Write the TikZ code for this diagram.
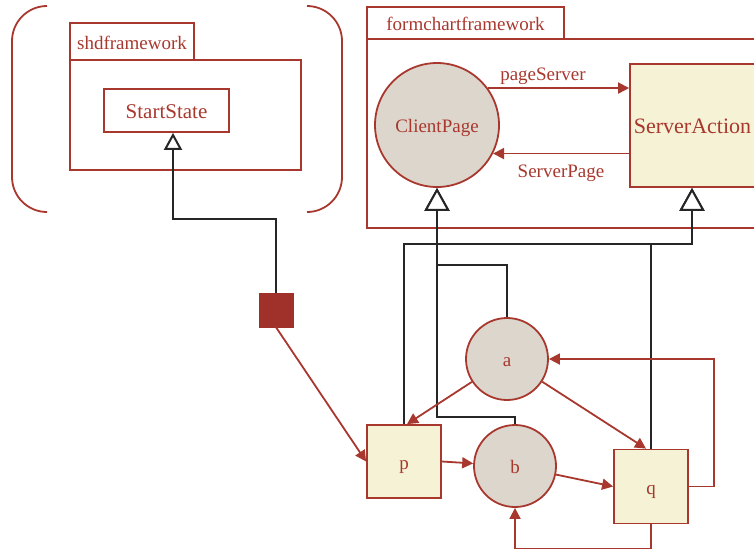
\documentclass[tikz,border=0pt]{standalone}
\usepackage{fontspec}
\setmainfont{Liberation Serif}
\usetikzlibrary{arrows.meta}
\definecolor{brick}{HTML}{A8382E}
\definecolor{brickfill}{HTML}{A0302A}
\definecolor{circfill}{HTML}{DCD6CC}
\definecolor{boxfill}{HTML}{F5F2D5}
\definecolor{ink}{HTML}{262626}
\begin{document}
\begin{tikzpicture}[x=1pt,y=-1pt,
  txt/.style={text=brick, font=\fontsize{19}{22}\selectfont},
  frame/.style={draw=brick, line width=1.8pt, txt, inner sep=0pt, text height=15pt, text depth=0pt},
  box/.style={frame, fill=boxfill},
  circ/.style={circle, frame, fill=circfill},
  rarrow/.style={draw=brick, line width=1.8pt, -{Triangle[length=11pt,width=11pt]}},
  inh/.style={draw=ink, line width=2pt, -{Triangle[open,length=23pt,width=25pt,fill=white]}},
  inhsmall/.style={draw=ink, line width=2pt, -{Triangle[open,length=17pt,width=18pt,fill=white]}}
]
\useasboundingbox (0,0) rectangle (754,550);

% bracket around the shd package
\draw[draw=brick, line width=1.8pt]
  (47,6) .. controls (27.7,6) and (12,21.7) .. (12,41) -- (12,177)
  .. controls (12,196.3) and (27.7,212) .. (47,212);
\draw[draw=brick, line width=1.8pt]
  (307,6) .. controls (326.3,6) and (342,21.7) .. (342,41) -- (342,177)
  .. controls (342,196.3) and (326.3,212) .. (307,212);

% shdframework package
\node[frame, minimum width=124pt, minimum height=37pt] (shdtab) at (132,41.5) {shdframework};
\node[frame, minimum width=231pt, minimum height=110pt] (shdbody) at (185.5,115) {};
\node[frame, minimum width=125pt, minimum height=43pt, font=\fontsize{21}{24}\selectfont] (start) at (166.5,110.5) {StartState};

% formchartframework package
\node[frame, minimum width=197pt, minimum height=32pt] (formtab) at (465.5,23) {formchartframework};
\draw[draw=brick, line width=1.8pt] (760,39) -- (367,39) -- (367,228) -- (760,228);

\node[circ, minimum size=124pt] (client) at (437,125) {ClientPage};
\node[box, minimum width=125pt, minimum height=123pt, font=\fontsize{22}{25}\selectfont] (server) at (692.5,125.5) {ServerAction};

\draw[rarrow] (client.36.6) -- (client.36.6 -| server.west);
\draw[rarrow] (server.west |- client.-27.9) -- (client.-27.9);
\node[txt, anchor=base] (lps) at (543,80) {pageServer};
\node[txt, anchor=base] (lsp) at (561,177) {ServerPage};

% states and actions
\node[rectangle, draw=brickfill, fill=brickfill, minimum size=34pt, inner sep=0pt] (sq) at (276,310) {};
\node[circ, minimum size=82pt] (a) at (507,359) {a};
\node[circ, minimum size=82pt] (b) at (515,466) {b};
\node[box, minimum width=74pt, minimum height=73pt] (p) at (404,461.5) {p};
\node[box, minimum width=74pt, minimum height=74pt] (q) at (651,486.5) {q};

% junctions of the generalisation lines
\coordinate (ja) at (437,265);
\coordinate (jb) at (437,417);
\coordinate (js) at (692,244);
\coordinate (jst) at (173,219);

% generalisations
\draw[inhsmall] (sq.north) |- (jst) -- (jst |- start.south);
\draw[inh] (a.north) |- (ja) -- (client.south);
\draw[inh] (b.north) |- (jb) -- (client.south);
\draw[inh] (p.north) |- (js) -- (js |- server.south);
\draw[inh] (q.north) |- (js) -- (js |- server.south);

% transitions
\draw[rarrow] (sq.south) -- (p.west);
\draw[rarrow] (a) -- ([xshift=3pt]p.north);
\draw[rarrow] (a) -- ([xshift=-5pt]q.north);
\draw[rarrow] (p.east) -- (b);
\draw[rarrow] (b) -- (q.west);
\draw[rarrow] (q.east) -- ++(25,0) |- (a.east);
\draw[rarrow] (q.south) -- ++(0,24) -| (b.south);
\end{tikzpicture}
\end{document}
